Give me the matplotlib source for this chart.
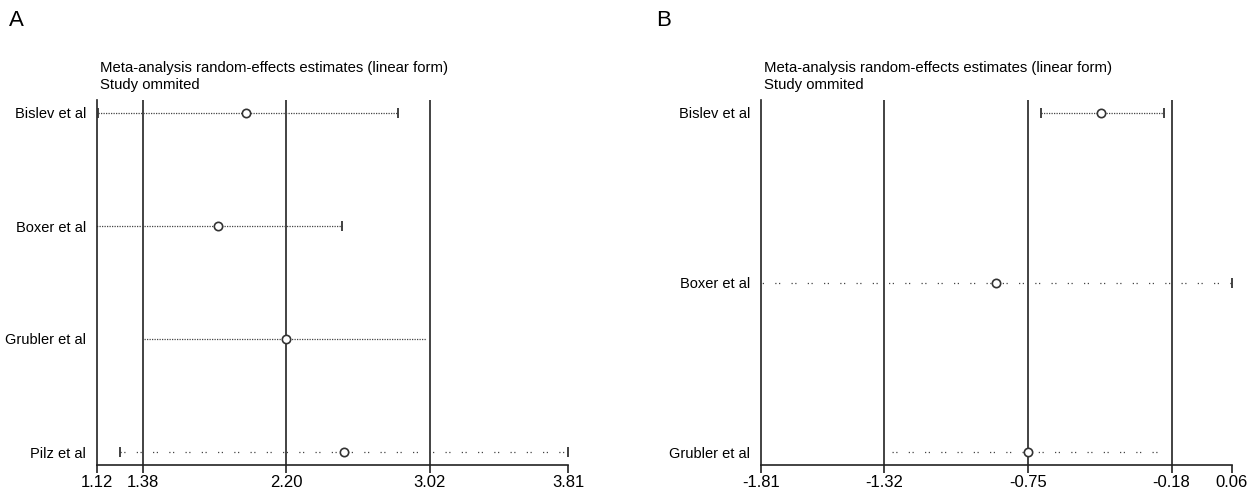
import matplotlib
matplotlib.use("Agg")
import matplotlib.pyplot as plt
import numpy as np

plt.rcParams['font.family'] = ['Liberation Sans Narrow', 'Liberation Sans', 'DejaVu Sans']

# panel A: study omitted -> estimate and CI
studies_a = ["Bislev et al", "Boxer et al", "Grubler et al", "Pilz et al"]
est_a = [1.97, 1.81, 2.20, 2.53]
low_a = [1.125, 1.02, 1.39, 1.25]
up_a = [2.84, 2.52, 3.00, 3.81]
ref_a = [1.38, 2.20, 3.02]
ticks_a = [1.12, 1.38, 2.20, 3.02, 3.81]

# panel B
studies_b = ["Bislev et al", "Boxer et al", "Grubler et al"]
est_b = [-0.46, -0.875, -0.75]
low_b = [-0.70, -1.95, -1.29]
up_b = [-0.21, 0.06, -0.20]
ref_b = [-1.32, -0.75, -0.18]
ticks_b = [-1.81, -1.32, -0.75, -0.18, 0.06]

W, H = 1252, 488
title1 = "Meta-analysis random-effects estimates (linear form)"
title2 = "Study ommited"

dense = (0, (1, 1))
sparse = (0, (1, 2, 1, 9))
styles_a = [dense, dense, dense, sparse]
styles_b = [dense, sparse, sparse]
caps_a = [True, True, False, True]
caps_b = [True, True, False]

fig = plt.figure(figsize=(W / 100, H / 100), dpi=100)


def panel(left_px, letter, letter_x, studies, est, low, up, ref, ticks, styles, caps):
    top_px, bot_px, right_px = 100, 465, left_px + 471
    ax = fig.add_axes([left_px / W, (H - bot_px) / H,
                       (right_px - left_px) / W, (bot_px - top_px) / H])
    n = len(studies)
    rows = np.arange(n)
    pad = (n - 1) * 13 / 339
    ax.set_ylim(n - 1 + pad, -pad)
    ax.set_xlim(ticks[0], ticks[-1])

    for r in ref:
        ax.axvline(r, color="#222222", lw=1.2, zorder=1)

    for i in rows:
        ax.plot([low[i], up[i]], [i, i], color="#444444", lw=0.9,
                linestyle=styles[i], zorder=2)
        if caps[i]:
            for b in (low[i], up[i]):
                if ticks[0] <= b <= ticks[-1]:
                    ax.plot([b], [i], marker="|", ms=7, mew=1.3, color="#333333",
                            clip_on=False, zorder=3)
        ax.plot([est[i]], [i], marker="o", ms=6, mfc="white", mec="#333333",
                mew=1.2, zorder=4)

    ax.set_xticks(ticks)
    ax.set_xticklabels(["%.2f" % t for t in ticks], fontsize=12)
    ax.set_yticks(rows)
    ax.set_yticklabels(studies, fontsize=10.5)
    ax.tick_params(axis="y", length=0, pad=8)
    ax.tick_params(axis="x", direction="out", length=6, width=1.2,
                   color="#222222", pad=1)
    for s in ("top", "right"):
        ax.spines[s].set_visible(False)
    for s in ("left", "bottom"):
        ax.spines[s].set_linewidth(1.2)
        ax.spines[s].set_color("#222222")

    fig.text((left_px + 3) / W, 1 - 68 / H, title1, fontsize=10.7,
             family=["Liberation Sans", "DejaVu Sans"], va="center")
    fig.text((left_px + 3) / W, 1 - 85 / H, title2, fontsize=10.7,
             family=["Liberation Sans", "DejaVu Sans"], va="center")
    fig.text(letter_x / W, 1 - 20 / H, letter, fontsize=16,
             family=["Liberation Sans", "DejaVu Sans"], va="center")
    return ax


panel(97, "A", 9, studies_a, est_a, low_a, up_a, ref_a, ticks_a, styles_a, caps_a)
panel(761, "B", 656, studies_b, est_b, low_b, up_b, ref_b, ticks_b, styles_b, caps_b)

fig.savefig("out.png", dpi=100, facecolor="white")
